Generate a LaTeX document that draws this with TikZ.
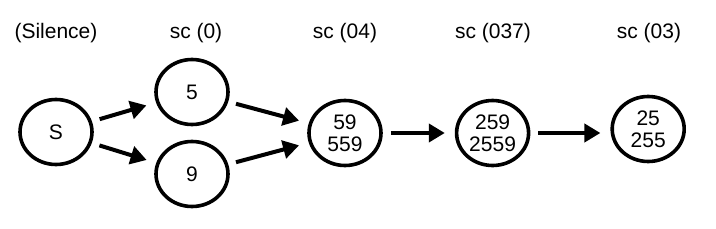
\documentclass[tikz,border=0pt]{standalone}
\usepackage{fontspec}
\setmainfont{Liberation Sans}
\usetikzlibrary{arrows.meta,positioning,shapes.geometric}

\begin{document}
\begin{tikzpicture}[x=1pt, y=-1pt, >={Triangle[length=16pt,width=18pt]},
  every node/.style={align=center, font=\fontsize{21}{22}\selectfont},
  state/.style={draw, ellipse, line width=3.6pt, minimum width=72pt, minimum height=65pt, inner sep=0pt},
  arr/.style={->, line width=4pt, shorten >=10pt, shorten <=8pt}]
\useasboundingbox (0,0) rectangle (716,228);
\node[state] (s) at (56,132) {S};
\node[state] (a5) at (192,92) {5};
\node[state] (a9) at (192,174) {9};
\node[state] (a59) at (345,133) {59\\559};
\node[state,right=72pt of a59] (a259) {259\\2559};
\node[state,right=80pt of a259,yshift=4pt] (a25) {25\\255};
% column headings
\node (lsil) at (56,33) {(Silence)};
\node (l0) at (196,33) {sc (0)};
\node (l04) at (345,33) {sc (04)};
\node (l037) at (493,33) {sc (037)};
\node (l03) at (649,33) {sc (03)};
% transitions
\draw[arr] (s) -- (a5); \draw[arr] (s) -- (a9);
\draw[arr] (a5) -- (a59); \draw[arr] (a9) -- (a59);
\draw[arr] (a59) -- (a259);
\draw[arr] (a259.east) -- (a25.west |- a259.east);
\end{tikzpicture}
\end{document}
